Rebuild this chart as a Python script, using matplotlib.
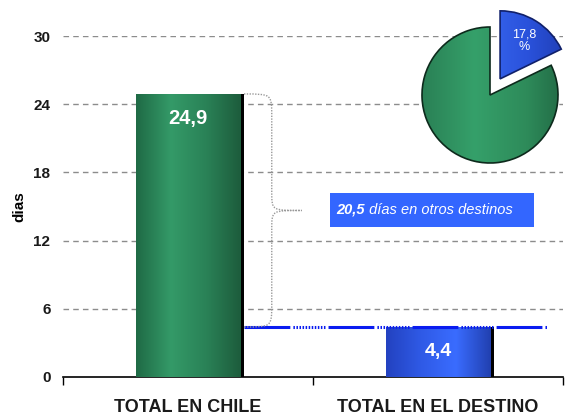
import numpy as np
import matplotlib
matplotlib.use("Agg")
import matplotlib.pyplot as plt
from matplotlib.path import Path
from matplotlib.patches import PathPatch, Rectangle
from matplotlib.colors import LinearSegmentedColormap

plt.rcParams['font.family'] = ['Liberation Sans', 'DejaVu Sans']

categories = ["TOTAL EN CHILE", "TOTAL EN EL DESTINO"]
dias = [24.9, 4.4]
bar_labels = ["24,9", "4,4"]
otros = 20.5
pie_values = [17.8, 82.2]
pie_label = "17,8\n%"
yticks = [0, 6, 12, 18, 24, 30]

green_cm = LinearSegmentedColormap.from_list("g", ["#1f6a45", "#349a68", "#2a8257", "#1d5c3c"])
blue_cm = LinearSegmentedColormap.from_list("b", ["#2342c0", "#2f5ae6", "#3a6cff", "#2140b0"])
pie_green = LinearSegmentedColormap.from_list("pg", ["#2a8055", "#35a06a", "#2e8b5a", "#1c5c3c"])
pie_blue = LinearSegmentedColormap.from_list("pb", ["#2448d0", "#3a6af0", "#2a52dc", "#1d38a8"])

fig = plt.figure(figsize=(5.65, 4.17), dpi=100)
ax = fig.add_axes([63 / 565, 40 / 417, 500 / 565, 341 / 417])

x = np.arange(len(categories))
width = 0.42
bars = ax.bar(x, dias, width=width, color="none", edgecolor="none", zorder=3)
# black shadow on the right side of each bar
ax.bar(x + 0.014, dias, width=width, color="black", zorder=2)
grad = np.linspace(0, 1, 256).reshape(1, -1)
for b, cm in zip(bars, [green_cm, blue_cm]):
    bx, bw, bh = b.get_x(), b.get_width(), b.get_height()
    im = ax.imshow(grad, cmap=cm, aspect="auto", extent=[bx, bx + bw, 0, bh], zorder=3)
    im.set_clip_path(b)

ax.text(x[0], dias[0] - 2.2, bar_labels[0], ha="center", va="center", color="white",
        fontsize=14.5, fontweight="bold", zorder=5)
ax.text(x[1], dias[1] / 2, bar_labels[1], ha="center", va="center", color="white",
        fontsize=14, fontweight="bold", zorder=5)

ax.set_xlim(-0.5, 1.5)
ax.set_ylim(0, 30)
ax.set_aspect("auto")
ax.set_yticks(yticks)
ax.set_yticklabels([str(v) for v in yticks], fontweight="bold", fontsize=11, color="#1a1a1a")
ax.tick_params(axis="y", length=0, pad=9)
for v in yticks[1:]:
    ax.axhline(v, color="#8c8c8c", linestyle=(0, (4, 3)), lw=1, zorder=1)

ax.set_xticks([-0.5, 0.5, 1.5])
ax.set_xticklabels([])
ax.tick_params(axis="x", which="major", direction="out", length=6, width=1, color="black")
ax.set_xticks(x, minor=True)
ax.set_xticklabels(categories, minor=True, fontweight="bold", fontsize=13, color="#1a1a1a")
ax.tick_params(axis="x", which="minor", length=0, pad=16)

for s in ["top", "right", "left"]:
    ax.spines[s].set_visible(False)
ax.spines["bottom"].set_linewidth(1.2)
ax.set_ylabel("dias", fontweight="bold", fontsize=11, labelpad=5)

# blue reference line at the destination value
x_start = bars[0].get_x() + bars[0].get_width() + 0.014
ax.plot([x_start, 1.44], [dias[1], dias[1]], color="#0a1cf0", lw=2.2, zorder=4,
        linestyle=(0, (15, 1) + (0.5, 0.5) * 10 + (0.5, 1)))

# curly brace between the two values
y_top, y_bot = dias[0], dias[1]
y_mid = (y_top + y_bot) / 2
x0, xs, xt = x_start, 0.335, 0.455
verts = [(x0, y_top), (xs, y_top), (xs, y_top), (xs, y_top - 2.0),
         (xs, y_mid + 1.6),
         (xs, y_mid), (xs, y_mid), (xt, y_mid),
         (xs, y_mid), (xs, y_mid), (xs, y_mid - 1.6),
         (xs, y_bot + 2.0),
         (xs, y_bot), (xs, y_bot), (x0, y_bot)]
codes = [Path.MOVETO, Path.CURVE4, Path.CURVE4, Path.CURVE4,
         Path.LINETO,
         Path.CURVE4, Path.CURVE4, Path.CURVE4,
         Path.CURVE4, Path.CURVE4, Path.CURVE4,
         Path.LINETO,
         Path.CURVE4, Path.CURVE4, Path.CURVE4]
ax.add_patch(PathPatch(Path(verts, codes), fill=False, edgecolor="#9a9a9a",
                       lw=1, linestyle=(0, (1, 1)), zorder=4))

# label box
ax.add_patch(Rectangle((0.568, 13.2), 0.816, 3.0, facecolor="#3366ff", edgecolor="none", zorder=4))
t1 = ax.text(0.594, 14.7, f"{otros:.1f}".replace(".", ","), color="white", fontsize=10.5,
             fontweight="bold", style="italic", va="center", ha="left", zorder=5)
ax.annotate(" días en otros destinos", xy=(1, 0.5), xycoords=t1, va="center", ha="left",
            color="white", fontsize=10.5, style="italic", zorder=5)

# pie inset (center ~ (490, 95) px, radius ~ 68 px)
lim = 1.35
half = 68 * lim
pax = fig.add_axes([(490 - half) / 565, (417 - 95 - half) / 417, 2 * half / 565, 2 * half / 417])
explode = [0.28, 0]
wedges, _ = pax.pie(pie_values, colors=["#2a4fd8", "#2e8b5a"], startangle=90,
                    counterclock=False, explode=explode, radius=1,
                    wedgeprops=dict(edgecolor="#0d2a1c", linewidth=1.2))
wedges[0].set_edgecolor("#10206a")
for w, cm in zip(wedges, [pie_blue, pie_green]):
    im = pax.imshow(grad, cmap=cm, aspect="auto", extent=[-1, 1.3, -1, 1.3], zorder=2)
    im.set_clip_path(w)
    w.set_zorder(3)
    w.set_facecolor("none")
theta = np.deg2rad(90 - pie_values[0] / 100 * 360 / 2)
r_lab = explode[0] + 0.66
pax.text(r_lab * np.cos(theta), r_lab * np.sin(theta), pie_label, ha="center", va="center",
         color="white", fontsize=9, linespacing=1.1, zorder=4)
pax.set_xlim(-lim, lim)
pax.set_ylim(-lim, lim)
pax.set_aspect("equal")
pax.axis("off")

fig.savefig("out.png", dpi=100)
